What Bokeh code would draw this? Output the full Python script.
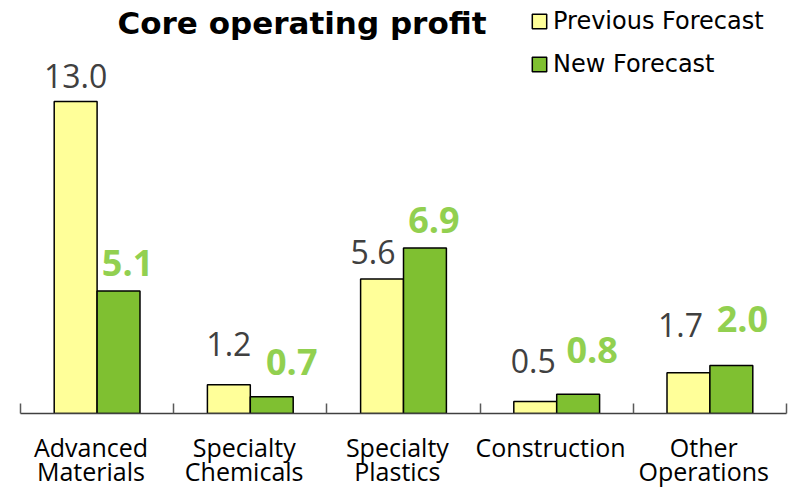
from bokeh.plotting import figure
from bokeh.models import (Range1d, FixedTicker, Legend, LegendItem, Label,
                          LinearAxis, ColumnDataSource)
from bokeh.core.properties import value
from bokeh.embed import file_html
from bokeh.resources import INLINE

# ---- data ----
categories = ["Advanced\nMaterials", "Specialty\nChemicals", "Specialty\nPlastics",
              "Construction", "Other\nOperations"]
previous_forecast = [13.0, 1.2, 5.6, 0.5, 1.7]
new_forecast = [5.1, 0.7, 6.9, 0.8, 2.0]
series_names = ["Previous Forecast", "New Forecast"]
title_text = "Core operating profit"

# ---- style ----
YELLOW = "#FFFF99"
GREEN = "#7FC031"
GREEN_TXT = "#92D050"
GRAY_TXT = "#404040"
BAR_W = 0.28
PX_PER_UNIT = 24.0
FRAME_H = 413
FRAME_W = 766
LABEL_SHIFT = -0.04   # category labels sit slightly left of centre
# label nudges (pixels)
prev_dx = [0, 0, -9, -2, -8]
prev_gap = [13, 28, 14, 28, 35]
new_dx = [9, 20, 9, 14, 11]
new_gap = [14, 21, 14, 30, 33]

n = len(categories)
idx = list(range(n))
x_prev = [i + 0.5 - BAR_W / 2 for i in idx]
x_new = [i + 0.5 + BAR_W / 2 for i in idx]

p = figure(frame_width=FRAME_W, frame_height=FRAME_H,
           x_range=Range1d(0, n), y_range=Range1d(0, FRAME_H / PX_PER_UNIT),
           output_backend="svg", toolbar_location=None,
           min_border_left=20, min_border_right=6, min_border_top=0, min_border_bottom=0)
p.background_fill_color = "white"
p.border_fill_color = "white"
p.outline_line_color = None
p.xgrid.visible = False
p.ygrid.visible = False
p.yaxis.visible = False

src_prev = ColumnDataSource(dict(x=x_prev, top=previous_forecast,
                                 lbl=[f"{v:.1f}" for v in previous_forecast],
                                 dx=prev_dx, dy=[-(g + 13) for g in prev_gap]))
src_new = ColumnDataSource(dict(x=x_new, top=new_forecast,
                                lbl=[f"{v:.1f}" for v in new_forecast],
                                dx=new_dx, dy=[-(g + 14) for g in new_gap]))

r1 = p.vbar(x="x", top="top", width=BAR_W, source=src_prev,
            fill_color=YELLOW, line_color="black", line_width=1.5)
r2 = p.vbar(x="x", top="top", width=BAR_W, source=src_new,
            fill_color=GREEN, line_color="black", line_width=1.5)

p.text(x="x", y="top", text="lbl", source=src_prev, x_offset="dx", y_offset="dy",
       text_align="center", text_baseline="alphabetic",
       text_font=value("Open Sans"), text_font_size="32px", text_color=GRAY_TXT)
p.text(x="x", y="top", text="lbl", source=src_new, x_offset="dx", y_offset="dy",
       text_align="center", text_baseline="alphabetic",
       text_font=value("Open Sans"), text_font_size="36px", text_font_style="bold",
       text_color=GREEN_TXT)

label_ticks = [i + 0.5 + LABEL_SHIFT for i in idx]
line1 = [c.split("\n")[0] for c in categories]
line2 = [c.split("\n")[1] if "\n" in c else "" for c in categories]

# main x axis: line, boundary ticks, first line of category labels
ax = p.xaxis[0]
ax.ticker = FixedTicker(ticks=label_ticks, minor_ticks=list(range(n + 1)))
ax.major_label_overrides = {t: line1[i] for i, t in enumerate(label_ticks)}
ax.major_tick_line_color = None
ax.major_tick_in = 0
ax.major_tick_out = 0
ax.minor_tick_in = 10
ax.minor_tick_out = 0
ax.minor_tick_line_color = "#595959"
ax.minor_tick_line_width = 1.5
ax.axis_line_color = "#404040"
ax.axis_line_width = 1.5
ax.major_label_standoff = 16
ax.major_label_text_font = "Open Sans"
ax.major_label_text_font_size = "25px"
ax.major_label_text_color = "black"

# second-line labels
ax2 = LinearAxis(ticker=FixedTicker(ticks=label_ticks, minor_ticks=[]))
ax2.major_label_overrides = {t: line2[i] for i, t in enumerate(label_ticks)}
ax2.axis_line_color = None
ax2.major_tick_line_color = None
ax2.minor_tick_line_color = None
ax2.major_tick_in = 0
ax2.major_tick_out = 0
ax2.minor_tick_in = 0
ax2.minor_tick_out = 0
ax2.major_label_standoff = -13
ax2.major_label_text_font = "Open Sans"
ax2.major_label_text_font_size = "25px"
ax2.major_label_text_color = "black"
p.add_layout(ax2, "below")

# title
p.add_layout(Label(x=281.5, y=390.5, x_units="screen", y_units="screen", text=title_text,
                   text_align="center", text_baseline="alphabetic",
                   text_font="DejaVu Sans", text_font_size="31px",
                   text_font_style="bold", text_color="black"))

legend = Legend(items=[LegendItem(label=series_names[0], renderers=[r1]),
                       LegendItem(label=series_names[1], renderers=[r2])],
                location=(510, 335.5), orientation="vertical",
                glyph_width=18, glyph_height=18, label_height=24, spacing=15,
                label_standoff=5, padding=0, margin=0,
                border_line_color=None, background_fill_alpha=0,
                label_text_font="DejaVu Sans", label_text_font_size="24px",
                label_text_color="black")
p.add_layout(legend)

open("out.html", "w").write(file_html(p, INLINE))
